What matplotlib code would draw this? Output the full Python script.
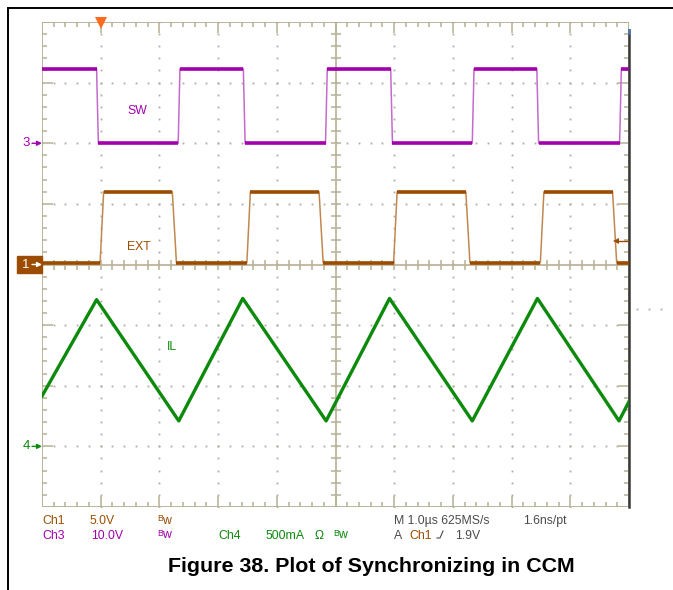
import matplotlib
matplotlib.use('Agg')
import matplotlib.pyplot as plt
from matplotlib.patches import Rectangle
from matplotlib.lines import Line2D
import numpy as np

# ---- values (time in us) ----
sw_fall = [0.93, 3.43, 5.94, 8.43]
sw_rise = [2.32, 4.83, 7.33, 9.84]
sw_low, sw_high = 0.0, 12.3          # V

ext_rise = [0.99, 3.49, 5.99, 8.49]
ext_fall = [2.22, 4.72, 7.22, 9.72]
ext_low, ext_high = 0.15, 6.0        # V

il_t = [0.0, 0.93, 2.33, 3.42, 4.84, 5.92, 7.33, 8.44, 9.83, 10.0]
il_a = [0.415, 1.21, 0.21, 1.22, 0.21, 1.22, 0.21, 1.22, 0.21, 0.37]

# channel settings: units/div, ground offset in div
ch1_scale, ch1_off = 5.0, 0.0    # EXT
ch3_scale, ch3_off = 10.0, 2.0   # SW
ch4_scale, ch4_off = 0.5, -3.0   # IL
trig_level = 1.9
trig_pos = 1.0

# colours
purple = '#a200ac'
purple_l = '#c46acc'
brown = '#9c4c00'
brown_l = '#c08850'
green = '#0b8a0b'
grid_c = '#b7b093'
dot_c = '#b0ada0'
gray = '#4a4a4a'

W, H = 673, 590
fig = plt.figure(figsize=(W / 100, H / 100), dpi=100)

def fx(x):
    return x / W

def fy(y):
    return 1 - y / H

# screen area in pixels: x 42..629, y 22..507
ax = fig.add_axes([fx(42), fy(507), (629 - 42) / W, (507 - 22) / H])
ax.set_xlim(0, 10)
ax.set_ylim(-4, 4)
ax.axis('off')
dx = 10 / 587.0   # data per pixel
dy = 8 / 485.0

# ---- graticule ----
mx = np.arange(0, 10.001, 0.2)
my = np.arange(-4, 4.001, 0.2)
for xv in range(1, 10):
    if xv == 5:
        continue
    ax.plot(np.full_like(my, xv), my, ls='none', marker='s', ms=1.3, mew=0, color=dot_c, zorder=1)
for yv in range(-3, 4):
    if yv == 0:
        continue
    ax.plot(mx, np.full_like(mx, yv), ls='none', marker='s', ms=1.3, mew=0, color=dot_c, zorder=1)

ax.axhline(0, color=grid_c, lw=1.2, zorder=1)
ax.axvline(5, color=grid_c, lw=1.2, zorder=1)
ax.vlines(mx, -5 * dy, 5 * dy, color=grid_c, lw=1.1, zorder=1)
ax.hlines(my, 5 - 5 * dx, 5 + 5 * dx, color=grid_c, lw=1.1, zorder=1)

# border + inward ticks
ax.plot([0, 10, 10, 0, 0], [-4, -4, 4, 4, -4], color=grid_c, lw=1.3, zorder=1)
lx = np.where(np.isclose(mx % 1, 0) | np.isclose(mx % 1, 1), 11, 5)
ly = np.where(np.isclose(my % 1, 0) | np.isclose(my % 1, 1), 11, 5)
ax.vlines(mx, 4 - lx * dy, 4, color=grid_c, lw=1.1, zorder=1)
ax.vlines(mx, -4, -4 + lx * dy, color=grid_c, lw=1.1, zorder=1)
ax.hlines(my, 0, ly * dx, color=grid_c, lw=1.1, zorder=1)
ax.hlines(my, 10 - ly * dx, 10, color=grid_c, lw=1.1, zorder=1)
ax.plot([10, 10], [-4, (264.5 - 30) / 60.6], color='#3a3a3a', lw=1.8, zorder=2, clip_on=False)
ax.plot([10, 10], [(264.5 - 30) / 60.6, (264.5 - 33) / 60.6], color='#4a78c0', lw=1.8, zorder=2, clip_on=False)
# stray dots right of the screen
ax.plot([10.14, 10.34, 10.55], [-0.73] * 3, ls='none', marker='s', ms=1.3, mew=0, color=dot_c, clip_on=False)

# ---- traces ----
def steps(t_a, t_b, lv_a, lv_b, d_a, d_b):
    t, v = [0.0], [lv_b]
    for a, b in zip(t_a, t_b):
        t += [a, a + d_a, b, b + d_b]
        v += [lv_b, lv_a, lv_a, lv_b]
    t.append(10.0)
    v.append(lv_b)
    return np.array(t), np.array(v)

def draw_square(t, v, scale, off, c_edge, c_flat):
    y = v / scale + off
    ax.plot(t, y, color=c_edge, lw=1.1, zorder=3)
    for i in range(len(t) - 1):
        if v[i] == v[i + 1]:
            ax.plot([t[i], t[i + 1]], [y[i], y[i]], color=c_flat, lw=2.6,
                    solid_capstyle='butt', zorder=4)

t_sw, v_sw = steps(sw_fall, sw_rise, sw_low, sw_high, 0.03, 0.03)
draw_square(t_sw, v_sw, ch3_scale, ch3_off, purple_l, purple)

t_ext, v_ext = steps(ext_rise, ext_fall, ext_high, ext_low, 0.06, 0.07)
draw_square(t_ext, v_ext, ch1_scale, ch1_off, brown_l, brown)

ax.plot(il_t, np.array(il_a) / ch4_scale + ch4_off, color=green, lw=2.4, zorder=4)

# trigger position and level markers
ax.plot(trig_pos, 4 - 1 * dy, marker='v', ms=8, color='#ff6a1e', mew=0, zorder=6, clip_on=False)
ty = trig_level / ch1_scale + ch1_off
ax.plot([10 - 13 * dx, 10], [ty, ty], color=brown, lw=1, zorder=5)
ax.plot(10 - 13 * dx, ty, marker='<', ms=4.5, color=brown, mew=0, zorder=5)

# ---- channel labels on the screen ----
sfont = dict(family=['Liberation Sans', 'DejaVu Sans'], fontsize=8.8)
fig.text(fx(137.5), fy(111), 'SW', color=purple, ha='center', va='center', **sfont)
fig.text(fx(138.5), fy(247), 'EXT', color=brown, ha='center', va='center', **sfont)
fig.text(fx(171.5), fy(346.5), 'IL', color=green, ha='center', va='center', **sfont)

# ground markers on the left
ax.add_patch(Rectangle((-25 * dx, ch1_off - 8.5 * dy), 25 * dx, 17 * dy, color=brown,
                       zorder=5, clip_on=False))

def ground_marker(label, yd, col):
    ax.annotate('', xy=(0, yd), xytext=(-10 * dx, yd),
                arrowprops=dict(arrowstyle='-|>', color=col, lw=1.0, mutation_scale=7,
                                shrinkA=0, shrinkB=0), annotation_clip=False, zorder=7)
    ax.text(-16 * dx, yd, label, color=col, ha='center', va='center', fontsize=9.5,
            family=['Liberation Sans', 'DejaVu Sans'], clip_on=False, zorder=7)

ground_marker('3', ch3_off, purple)
ground_marker('1', ch1_off, 'white')
ground_marker('4', ch4_off, green)

# ---- readout under the screen ----
def bw(x, base, col):
    fig.text(fx(x), fy(base - 3), 'B', color=col, fontsize=6.3, va='baseline',
             family=['Liberation Sans', 'DejaVu Sans'])
    fig.text(fx(x + 5.5), fy(base - 0.5), 'w', color=col, va='baseline', **sfont)

r1, r2 = 524, 539
fig.text(fx(42.5), fy(r1), 'Ch1', color=brown, va='baseline', **sfont)
fig.text(fx(89), fy(r1), '5.0V', color=brown, va='baseline', **sfont)
bw(157, r1, brown)
fig.text(fx(394), fy(r1), 'M 1.0µs 625MS/s', color=gray, va='baseline', **sfont)
fig.text(fx(523), fy(r1), '1.6ns/pt', color=gray, va='baseline', **sfont)

fig.text(fx(42.5), fy(r2), 'Ch3', color=purple, va='baseline', **sfont)
fig.text(fx(91), fy(r2), '10.0V', color=purple, va='baseline', **sfont)
bw(157, r2, purple)
fig.text(fx(218), fy(r2), 'Ch4', color=green, va='baseline', **sfont)
fig.text(fx(265), fy(r2), '500mA', color=green, va='baseline', **sfont)
fig.text(fx(315), fy(r2), 'Ω', color=green, va='baseline', **sfont)
bw(333, r2, green)
fig.text(fx(394), fy(r2), 'A', color=gray, va='baseline', **sfont)
fig.text(fx(409), fy(r2), 'Ch1', color=brown, va='baseline', **sfont)
fig.lines.append(Line2D([fx(437), fx(440), fx(443)], [fy(538), fy(538), fy(531)],
                        transform=fig.transFigure, color=gray, lw=0.8))
fig.text(fx(455), fy(r2), '1.9V', color=gray, va='baseline', **sfont)

# caption
fig.text(fx(371.5), fy(572), 'Figure 38. Plot of Synchronizing in CCM', ha='center', va='baseline',
         fontsize=15.4, fontweight='bold', family=['Liberation Sans', 'DejaVu Sans'], color='black')

# outer document frame
fig.lines.append(Line2D([fx(8), fx(673)], [fy(8), fy(8)], transform=fig.transFigure, color='black', lw=1.4))
fig.lines.append(Line2D([fx(8), fx(8)], [fy(8), fy(590)], transform=fig.transFigure, color='black', lw=1.4))

fig.savefig('out.png', dpi=100)
